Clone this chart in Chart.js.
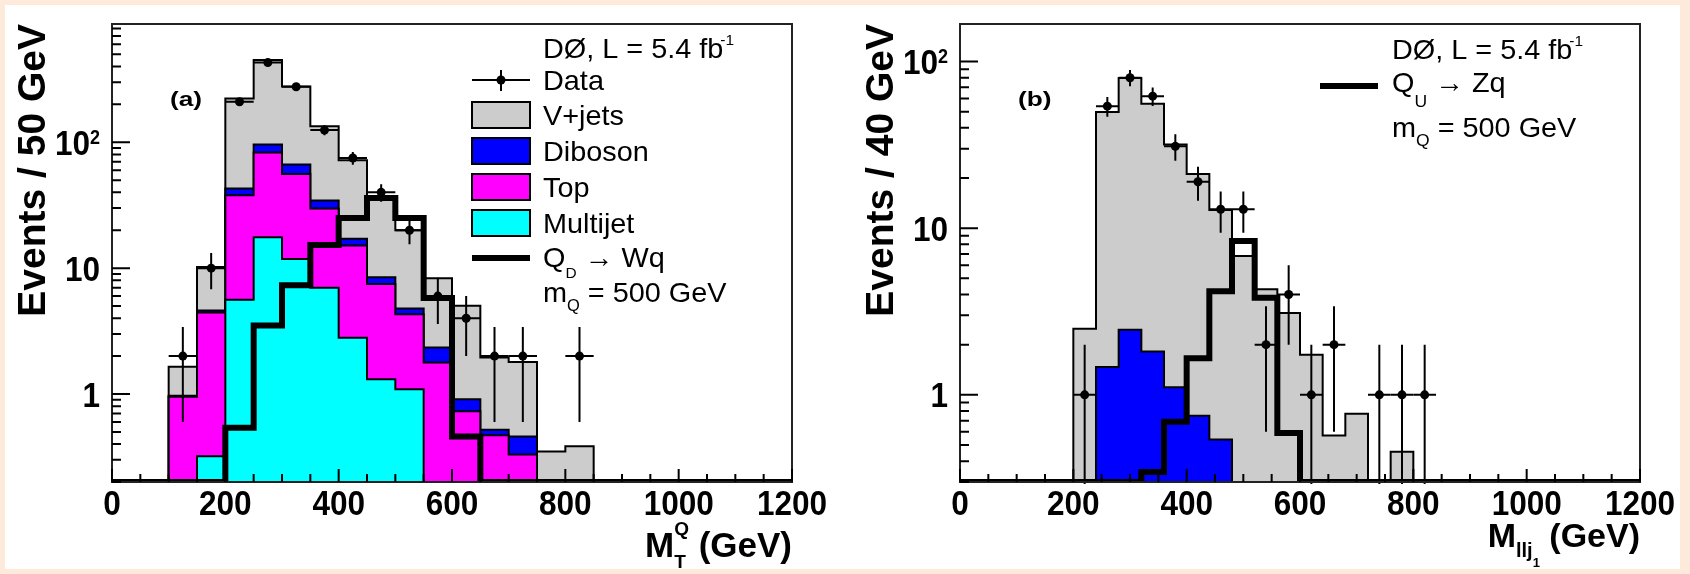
<!DOCTYPE html>
<html>
<head>
<meta charset="utf-8">
<title>DØ vector-like quark search</title>
<script src="https://cdn.jsdelivr.net/npm/chart.js@4.4.1/dist/chart.umd.min.js"></script>
<style>
	html, body { margin: 0; padding: 0; width: 1690px; height: 574px; overflow: hidden; background: #fdeadb; }
	#sheet { position: absolute; left: 5px; top: 5px; width: 1675px; height: 564px; background: #fff; }
	canvas { position: absolute; top: 0; }
	#chartA { left: 0; }
	#chartB { left: 845px; }
</style>
</head>
<body>
<div id="sheet"></div>
<canvas id="chartA" width="845" height="574"></canvas>
<canvas id="chartB" width="845" height="574"></canvas>
<script>
const FONT = '"Liberation Sans", Arial, Helvetica, sans-serif';

// axis ticks (both panels)
const xTickStep = 200;
const yTickValues = [1, 10, 100];
const yTickLabels = [['1', ''], ['10', ''], ['10', '2']];

// ---- panel (a): M_T^Q, 50 GeV bins, backgrounds start at 100 GeV ----
const binA = 50;
const bkgLowA = 100;
const multijetA = [0, 0.32, 5.6, 17.6, 11.8, 7.0, 2.8, 1.31, 1.09, 0, 0, 0, 0, 0, 0];
const topA = [0.95, 4.13, 32.4, 65.4, 44.2, 22.8, 12.3, 6.17, 3.22, 1.78, 0.73, 0.47, 0.33, 0, 0];
const dibosonA = [0.02, 0.15, 5.0, 13.0, 10.5, 4.7, 2.0, 0.97, 0.48, 0.56, 0.18, 0.05, 0.13, 0, 0];
const vjetsA = [0.68, 5.6, 180, 354, 211, 99.5, 55, 26.5, 15.2, 5.96, 4.12, 1.43, 1.34, 0.35, 0.385];
const dataA = [2, 10, 210, 430, 276, 125, 75, 40, 20, 6, 4, 2, 2, 0, 2];
const dataErrA = [1.4, 3.2, 14.5, 20.7, 16.6, 11.2, 8.7, 6.3, 4.5, 2.4, 2, 1.4, 1.4, 0, 1.4];
// Q_D -> Wq signal, m_Q = 500 GeV, 0..1200 GeV
const signalA = [0, 0, 0, 0, 0.54, 3.5, 7.3, 15.3, 25, 36, 25, 5.8, 0.46,
	0, 0, 0, 0, 0, 0, 0, 0, 0, 0, 0];

// ---- panel (b): M_llj1, 40 GeV bins, backgrounds start at 200 GeV ----
const binB = 40;
const bkgLowB = 200;
const dibosonB = [0, 1.47, 2.46, 1.82, 1.11, 0.75, 0.54, 0, 0, 0, 0, 0, 0, 0, 0];
const vjetsB = [2.49, 48.3, 77.3, 54.0, 30.7, 20.4, 12.3, 6.8, 4.3, 3.1, 1.74, 0.57, 0.77, 0, 0.456];
const dataB = [1, 54, 80, 62, 31, 19, 13, 13, 2, 4, 1, 2, 0, 1, 1, 1];
const dataErrB = [1, 7.3, 8.9, 7.9, 5.6, 4.4, 3.6, 3.6, 1.4, 2, 1, 1.4, 0, 1, 1, 1];
// Q_U -> Zq signal, m_Q = 500 GeV, 0..1200 GeV
const signalB = [0, 0, 0, 0, 0, 0, 0, 0, 0.345, 0.69, 1.66, 4.19, 8.39, 3.82, 0.59,
	0, 0, 0, 0, 0, 0, 0, 0, 0, 0, 0, 0, 0, 0, 0];

const legendLabelsA = ['Data', 'V+jets', 'Diboson', 'Top', 'Multijet'];
const colors = { vjets: '#cccccc', diboson: '#0000ff', top: '#ff00ff', multijet: '#00ffff' };

// lettering: size and horizontal squeeze, as measured on the figure
const TICK = { size: 35, sx: 0.9 };
const LEG = 28;
const LEG_SX = 1.03;

function cumulate(list) {
	const out = [];
	let run = list[0].map(() => 0);
	list.forEach((arr) => {
		run = run.map((s, i) => s + arr[i]);
		out.push(run);
	});
	return out;
}

// step outline: points on left bin edges, closed down to the floor on both ends
function histPoints(lo, w, vals, floor) {
	const pts = [{ x: lo, y: floor }];
	vals.forEach((v, i) => pts.push({ x: lo + i * w, y: Math.max(v, floor) }));
	const hi = lo + vals.length * w;
	pts.push({ x: hi, y: Math.max(vals[vals.length - 1], floor) });
	pts.push({ x: hi, y: floor });
	return pts;
}

function rich(ctx, x, y, parts, align, sx) {
	sx = sx || 1;
	const widths = parts.map((p) => {
		ctx.font = `${p.bold ? 'bold ' : ''}${p.size}px ${FONT}`;
		return ctx.measureText(p.t).width * sx;
	});
	let total = 0;
	parts.forEach((p, i) => {
		total += (p.back ? -widths[i - 1] : 0) + (p.dx || 0);
		total += p.back ? Math.max(widths[i], widths[i - 1]) : widths[i];
	});
	let cx = x;
	if (align === 'right') cx = x - total;
	if (align === 'center') cx = x - total / 2;
	ctx.textAlign = 'left';
	ctx.textBaseline = 'alphabetic';
	parts.forEach((p, i) => {
		if (p.back) cx -= widths[i - 1];
		cx += p.dx || 0;
		ctx.save();
		ctx.translate(cx, y + (p.dy || 0));
		ctx.scale(sx, 1);
		ctx.font = `${p.bold ? 'bold ' : ''}${p.size}px ${FONT}`;
		ctx.fillText(p.t, 0, 0);
		ctx.restore();
		cx += p.back ? Math.max(widths[i], widths[i - 1]) : widths[i];
	});
}

function legendBox(ctx, x, y, color) {
	ctx.fillStyle = color;
	ctx.fillRect(x, y, 58, 26);
	ctx.strokeStyle = '#000';
	ctx.lineWidth = 2;
	ctx.strokeRect(x, y, 58, 26);
}

function makeDecor(p) {
	return {
		id: 'decor',
		afterDatasetsDraw(chart) {
			const ctx = chart.ctx;
			const a = chart.chartArea;
			const xs = chart.scales.x;
			const ys = chart.scales.y;

			// data error bars
			ctx.save();
			ctx.beginPath();
			ctx.rect(a.left, a.top, a.right - a.left, a.bottom - a.top + 2);
			ctx.clip();
			ctx.strokeStyle = '#000';
			ctx.lineWidth = 2;
			p.data.forEach((n, i) => {
				if (n <= 0) return;
				const c = p.bkgLow + (i + 0.5) * p.binW;
				const px = xs.getPixelForValue(c);
				const py = ys.getPixelForValue(n);
				const lo = n - p.err[i] > 0 ? ys.getPixelForValue(n - p.err[i]) : a.bottom + 2;
				ctx.beginPath();
				ctx.moveTo(xs.getPixelForValue(c - p.binW / 2), py);
				ctx.lineTo(xs.getPixelForValue(c + p.binW / 2), py);
				ctx.moveTo(px, ys.getPixelForValue(n + p.err[i]));
				ctx.lineTo(px, lo);
				ctx.stroke();
			});
			ctx.restore();

			// frame
			ctx.save();
			ctx.strokeStyle = '#222';
			ctx.lineWidth = 2;
			ctx.strokeRect(a.left, a.top, a.right - a.left, a.bottom - a.top);

			// inward ticks
			ctx.strokeStyle = '#000';
			ctx.beginPath();
			for (let v = xs.min; v <= xs.max; v += 50) {
				const px = xs.getPixelForValue(v);
				ctx.moveTo(px, a.bottom);
				ctx.lineTo(px, a.bottom - (v % xTickStep === 0 ? 13 : 8));
			}
			for (let d = 0.1; d <= 1000; d *= 10) {
				for (let m = 1; m <= 9; m++) {
					const v = m * d;
					if (v < ys.min || v > ys.max) continue;
					const py = ys.getPixelForValue(v);
					ctx.moveTo(a.left, py);
					ctx.lineTo(a.left + (m === 1 ? 18 : 9), py);
				}
			}
			ctx.stroke();

			// tick labels at the scales' own tick values
			ctx.fillStyle = '#000';
			const cap = TICK.size * 0.716;
			xs.ticks.forEach((t) => {
				rich(ctx, xs.getPixelForValue(t.value), 502 + cap / 2,
					[{ t: String(t.value), size: TICK.size, bold: true }], 'center', TICK.sx);
			});
			ys.ticks.forEach((t) => {
				const lab = yTickLabels[yTickValues.indexOf(t.value)];
				const parts = [{ t: lab[0], size: TICK.size, bold: true }];
				if (lab[1]) parts.push({ t: lab[1], size: 20, bold: true, dy: -11 });
				rich(ctx, a.left - 12, ys.getPixelForValue(t.value) + cap / 2, parts, 'right', TICK.sx);
			});

			// y title, right-aligned at the top of the frame
			ctx.save();
			ctx.translate(p.yTitleX, a.top);
			ctx.rotate(-Math.PI / 2);
			ctx.font = `bold 39px ${FONT}`;
			ctx.textAlign = 'right';
			ctx.textBaseline = 'alphabetic';
			ctx.fillText(p.yTitle, 0, 0);
			ctx.restore();

			p.texts(ctx, a);
			ctx.restore();
		},
	};
}

function makePanel(id, p) {
	const tops = cumulate(p.stack.map((s) => s.values));
	const stackSets = p.stack.map((s, k) => ({
		label: s.label,
		data: histPoints(p.bkgLow, p.binW, tops[k], p.yMin),
		stepped: true,
		fill: 'start',
		backgroundColor: s.color,
		borderColor: '#000',
		borderWidth: 2,
		borderJoinStyle: 'miter',
		pointRadius: 0,
	}));
	const dataPts = [];
	p.data.forEach((n, i) => {
		if (n > 0) dataPts.push({ x: p.bkgLow + (i + 0.5) * p.binW, y: n });
	});

	new Chart(document.getElementById(id), {
		type: 'line',
		data: {
			datasets: [
				{ label: 'Data', data: dataPts, showLine: false, pointRadius: 4.5, pointBackgroundColor: '#000', pointBorderWidth: 0 },
				{ label: 'Signal', data: histPoints(0, p.sigBinW, p.signal, p.yMin), stepped: true, fill: false,
					borderColor: '#000', borderWidth: 6, borderJoinStyle: 'miter', pointRadius: 0 },
				...stackSets,
			],
		},
		options: {
			responsive: false,
			animation: false,
			events: [],
			layout: { padding: { left: 0, right: p.padRight, top: 24, bottom: 0 } },
			plugins: { legend: { display: false }, tooltip: { enabled: false } },
			scales: {
				x: {
					type: 'linear',
					min: 0,
					max: 1200,
					grid: { display: false, drawTicks: false },
					border: { display: false },
					ticks: { stepSize: xTickStep, display: false },
					afterFit: (s) => { s.height = 92; },
				},
				y: {
					type: 'logarithmic',
					min: p.yMin,
					max: p.yMax,
					grid: { display: false, drawTicks: false },
					border: { display: false },
					afterBuildTicks: (s) => { s.ticks = yTickValues.map((v) => ({ value: v })); },
					ticks: { display: false },
					afterFit: (s) => { s.width = p.yWidth; },
				},
			},
		},
		plugins: [makeDecor(p)],
	});
}

makePanel('chartA', {
	binW: binA,
	bkgLow: bkgLowA,
	sigBinW: binA,
	yMin: 0.2,
	yMax: 870,
	yWidth: 112,
	padRight: 53,
	yTitleX: 45,
	yTitle: 'Events / 50 GeV',
	stack: [
		{ label: 'Multijet', values: multijetA, color: colors.multijet },
		{ label: 'Top', values: topA, color: colors.top },
		{ label: 'Diboson', values: dibosonA, color: colors.diboson },
		{ label: 'V+jets', values: vjetsA, color: colors.vjets },
	],
	signal: signalA,
	data: dataA,
	err: dataErrA,
	texts(ctx) {
		rich(ctx, 792, 557, [
			{ t: 'M', size: 35, bold: true },
			{ t: 'T', size: 19, bold: true, dy: 11 },
			{ t: 'Q', size: 19, bold: true, dy: -22, back: true },
			{ t: ' (GeV)', size: 35, bold: true },
		], 'right', 1);
		rich(ctx, 170, 106, [{ t: '(a)', size: 21, bold: true }], 'left', 1.25);

		rich(ctx, 543, 58, [{ t: 'DØ, L = 5.4 fb', size: LEG }, { t: '-1', size: 15, dy: -13, dx: -3 }], 'left', LEG_SX);
		// Data marker
		ctx.strokeStyle = '#000';
		ctx.lineWidth = 2;
		ctx.beginPath();
		ctx.moveTo(472, 80);
		ctx.lineTo(530, 80);
		ctx.moveTo(501, 70);
		ctx.lineTo(501, 91);
		ctx.stroke();
		ctx.beginPath();
		ctx.arc(501, 80, 4.5, 0, Math.PI * 2);
		ctx.fill();
		rich(ctx, 543, 90, [{ t: legendLabelsA[0], size: LEG }], 'left', LEG_SX);

		const boxColors = [colors.vjets, colors.diboson, colors.top, colors.multijet];
		const boxTops = [102, 138, 174, 210];
		boxColors.forEach((c, i) => {
			legendBox(ctx, 472, boxTops[i], c);
			ctx.fillStyle = '#000';
			rich(ctx, 543, boxTops[i] + 23, [{ t: legendLabelsA[i + 1], size: LEG }], 'left', LEG_SX);
		});

		ctx.lineWidth = 6;
		ctx.beginPath();
		ctx.moveTo(472, 258);
		ctx.lineTo(530, 258);
		ctx.stroke();
		rich(ctx, 543, 267, [
			{ t: 'Q', size: LEG },
			{ t: 'D', size: 15, dy: 11 },
			{ t: ' → Wq', size: LEG },
		], 'left', LEG_SX);
		rich(ctx, 543, 302, [
			{ t: 'm', size: LEG },
			{ t: 'Q', size: 16, dy: 9 },
			{ t: ' = 500 GeV', size: LEG },
		], 'left', LEG_SX);
	},
});

makePanel('chartB', {
	binW: binB,
	bkgLow: bkgLowB,
	sigBinW: binB,
	yMin: 0.3,
	yMax: 168,
	yWidth: 115,
	padRight: 50,
	yTitleX: 48,
	yTitle: 'Events / 40 GeV',
	stack: [
		{ label: 'Diboson', values: dibosonB, color: colors.diboson },
		{ label: 'V+jets', values: vjetsB, color: colors.vjets },
	],
	signal: signalB,
	data: dataB,
	err: dataErrB,
	texts(ctx) {
		rich(ctx, 795, 547, [
			{ t: 'M', size: 34, bold: true },
			{ t: 'llj', size: 20, bold: true, dy: 10 },
			{ t: '1', size: 13, bold: true, dy: 20 },
			{ t: ' (GeV)', size: 34, bold: true },
		], 'right', 1);
		rich(ctx, 173, 106, [{ t: '(b)', size: 21, bold: true }], 'left', 1.25);

		rich(ctx, 547, 59, [{ t: 'DØ, L = 5.4 fb', size: LEG }, { t: '-1', size: 15, dy: -13, dx: -3 }], 'left', LEG_SX);
		ctx.strokeStyle = '#000';
		ctx.lineWidth = 6;
		ctx.beginPath();
		ctx.moveTo(475, 86);
		ctx.lineTo(533, 86);
		ctx.stroke();
		rich(ctx, 547, 92, [
			{ t: 'Q', size: LEG },
			{ t: 'U', size: 17, dy: 15 },
			{ t: ' → Zq', size: LEG },
		], 'left', LEG_SX);
		rich(ctx, 547, 137, [
			{ t: 'm', size: LEG },
			{ t: 'Q', size: 17, dy: 9 },
			{ t: ' = 500 GeV', size: LEG },
		], 'left', LEG_SX);
	},
});
</script>
</body>
</html>
